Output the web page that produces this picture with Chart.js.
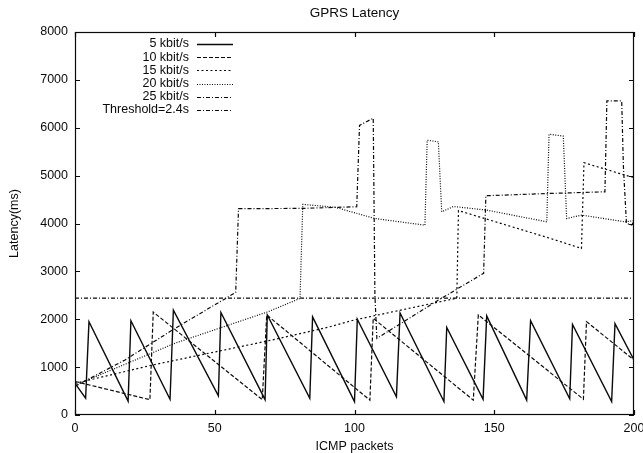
<!DOCTYPE html>
<html>
<head>
<meta charset="utf-8">
<script src="https://cdn.jsdelivr.net/npm/chart.js@4.4.1/dist/chart.umd.min.js"></script>
<style>
  html, body { margin: 0; padding: 0; background: #fff; }
  #chart { display: block; }
</style>
</head>
<body>
<canvas id="chart" width="643" height="453"></canvas>
<script>
// values (x = ICMP packet, y = latency in ms)
const kbit5X = [0, 3.8, 5, 19, 20, 34, 35.2, 51.3, 52.2, 68, 68.8, 84, 85, 100, 101, 115, 116.3, 132, 133, 146, 147.3, 161.6, 163, 177, 178, 192, 193.2, 200];
const kbit5Y = [660, 350, 1950, 290, 1970, 330, 2190, 400, 2140, 320, 2090, 350, 2050, 280, 2000, 380, 2130, 280, 1830, 330, 2070, 310, 1970, 340, 1890, 280, 1910, 1150];

const kbit10X = [0, 26.8, 28, 67, 68.6, 105.5, 106.7, 142.5, 144.3, 181.9, 183, 200];
const kbit10Y = [700, 320, 2150, 320, 2090, 310, 2020, 310, 2090, 330, 1950, 1150];

const kbit15X = [0, 27.4, 71.6, 91, 99.6, 136.6, 137.2, 170, 181.2, 182.1, 196.8, 200];
const kbit15Y = [660, 1040, 1580, 1840, 1980, 2440, 4270, 3690, 3480, 5270, 5010, 4960];

const kbit20X = [0, 35.8, 69.2, 80.5, 81.5, 93, 107.3, 125.2, 126, 130, 131.2, 135.4, 147.3, 168.8, 169.6, 174.7, 175.9, 181.3, 196.8, 200];
const kbit20Y = [620, 1500, 2160, 2435, 4400, 4340, 4105, 3965, 5740, 5705, 4245, 4355, 4280, 4035, 5865, 5825, 4105, 4175, 4035, 4060];

const kbit25X = [0, 17.9, 35.8, 57.5, 58.5, 81, 100.8, 101.8, 102.6, 106.7, 107.3, 108, 130.6, 146.2, 147, 169.3, 189.6, 190.3, 195.6, 196.2, 197.3, 199.2, 200];
const kbit25Y = [600, 1150, 1810, 2560, 4310, 4315, 4350, 6050, 6075, 6200, 2500, 1600, 2420, 2960, 4580, 4627, 4662, 6560, 6560, 5200, 4002, 3967, 4050];

const thresholdX = [0, 200];
const thresholdY = [2440, 2440];

const xTicks = [0, 50, 100, 150, 200];
const yTicks = [0, 1000, 2000, 3000, 4000, 5000, 6000, 7000, 8000];

const seriesLabels = ["5 kbit/s", "10 kbit/s", "15 kbit/s", "20 kbit/s", "25 kbit/s", "Threshold=2.4s"];
const seriesDash = [[], [4, 2], [2, 2.5], [1, 1.5], [4, 2, 1, 2], [4, 2, 1, 2]];

const FONT = "'Liberation Sans', Arial, Helvetica, sans-serif";
const INK = "#0a0a0a";

function toPoints(xs, ys) {
  return xs.map((x, i) => ({ x: x, y: ys[i] }));
}

const seriesData = [
  toPoints(kbit5X, kbit5Y),
  toPoints(kbit10X, kbit10Y),
  toPoints(kbit15X, kbit15Y),
  toPoints(kbit20X, kbit20Y),
  toPoints(kbit25X, kbit25Y),
  toPoints(thresholdX, thresholdY)
];

const datasets = seriesData.map((points, i) => ({
  label: seriesLabels[i],
  data: points,
  borderColor: INK,
  borderWidth: i === 0 ? 1.4 : 1.2,
  borderDash: seriesDash[i],
  pointRadius: 0,
  tension: 0,
  fill: false
}));

// gnuplot style frame, inward ticks, title and legend
const framePlugin = {
  id: "frame",
  afterDraw(chart) {
    const { ctx, chartArea: a, scales } = chart;
    ctx.save();
    ctx.strokeStyle = INK;
    ctx.lineWidth = 1.2;
    ctx.setLineDash([]);
    ctx.strokeRect(a.left + 0.5, a.top + 0.5, a.right - a.left - 1, a.bottom - a.top - 1);

    const len = 5;
    ctx.beginPath();
    xTicks.forEach((v) => {
      const px = Math.round(scales.x.getPixelForValue(v)) + 0.5;
      ctx.moveTo(px, a.bottom);
      ctx.lineTo(px, a.bottom - len);
      ctx.moveTo(px, a.top);
      ctx.lineTo(px, a.top + len);
    });
    yTicks.forEach((v) => {
      const py = Math.round(scales.y.getPixelForValue(v)) + 0.5;
      ctx.moveTo(a.left, py);
      ctx.lineTo(a.left + len, py);
      ctx.moveTo(a.right, py);
      ctx.lineTo(a.right - len, py);
    });
    ctx.stroke();

    ctx.fillStyle = INK;
    ctx.textBaseline = "middle";
    ctx.textAlign = "center";
    ctx.font = "13.5px " + FONT;
    ctx.fillText("GPRS Latency", (a.left + a.right) / 2, 13);

    // legend: right-aligned text with line sample on the right
    ctx.font = "12.5px " + FONT;
    ctx.textAlign = "right";
    chart.data.datasets.forEach((ds, i) => {
      const y = 44 + i * 13.2;
      ctx.fillText(ds.label, a.left + 114, y);
      ctx.beginPath();
      ctx.setLineDash(ds.borderDash || []);
      ctx.lineWidth = ds.borderWidth;
      ctx.moveTo(a.left + 122, Math.round(y) + 0.5);
      ctx.lineTo(a.left + 158, Math.round(y) + 0.5);
      ctx.stroke();
    });
    ctx.restore();
  }
};

new Chart(document.getElementById("chart"), {
  type: "line",
  data: { datasets: datasets },
  plugins: [framePlugin],
  options: {
    responsive: false,
    animation: false,
    layout: { padding: { top: 32, right: 9, bottom: 0, left: 0 } },
    plugins: {
      legend: { display: false },
      tooltip: { enabled: false },
      title: { display: false }
    },
    scales: {
      x: {
        type: "linear",
        min: 0,
        max: 200,
        afterBuildTicks: (s) => { s.ticks = xTicks.map((v) => ({ value: v })); },
        afterFit: (s) => { s.height = 38; s.paddingLeft = 0; s.paddingRight = 0; },
        grid: { display: false, drawTicks: false },
        border: { display: false },
        ticks: {
          color: INK, padding: 6, maxRotation: 0, autoSkip: false,
          font: { family: FONT, size: 12.5 },
          callback: (v) => String(v)
        },
        title: {
          display: true,
          text: "ICMP packets",
          color: INK,
          font: { family: FONT, size: 12.5, lineHeight: 1 },
          padding: { top: 0, bottom: 0 }
        }
      },
      y: {
        type: "linear",
        min: 0,
        max: 8000,
        afterBuildTicks: (s) => { s.ticks = yTicks.map((v) => ({ value: v })); },
        afterFit: (s) => { s.width = 75; s.paddingTop = 0; s.paddingBottom = 0; },
        grid: { display: false, drawTicks: false },
        border: { display: false },
        ticks: {
          color: INK, padding: 7, autoSkip: false,
          font: { family: FONT, size: 12.5 },
          callback: (v) => String(v)
        },
        title: {
          display: true,
          text: "Latency(ms)",
          color: INK,
          font: { family: FONT, size: 12.5, lineHeight: 1.2 },
          padding: { top: 7.5, bottom: 0 }
        }
      }
    }
  }
});
</script>
</body>
</html>
